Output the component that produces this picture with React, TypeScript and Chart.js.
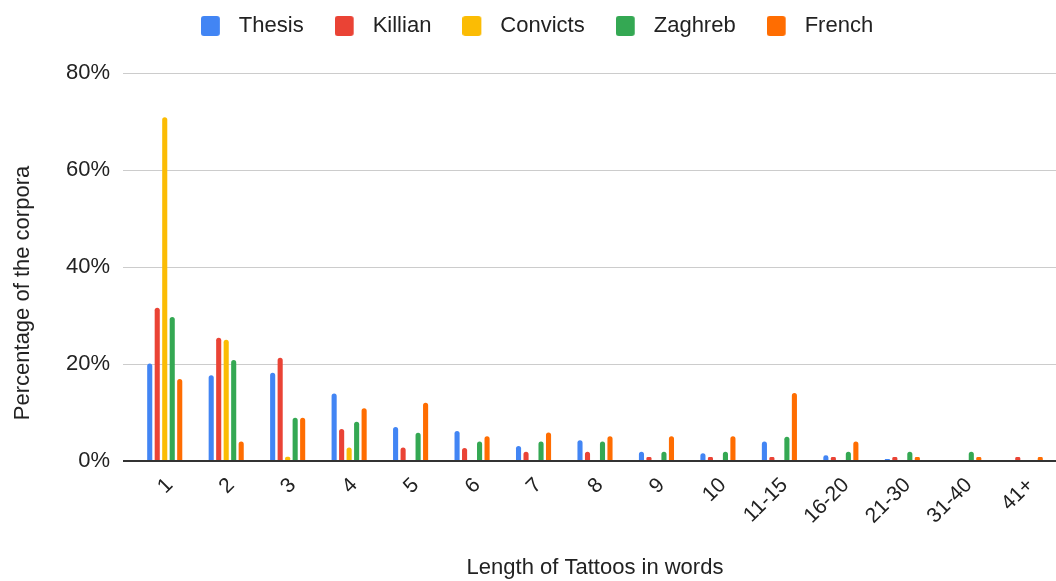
import React, { useEffect, useRef } from "react";
import { Chart, registerables } from "chart.js";

Chart.register(...registerables);

const categories = ["1", "2", "3", "4", "5", "6", "7", "8", "9", "10", "11-15", "16-20", "21-30", "31-40", "41+"];
const thesis = [20.1, 17.7, 18.2, 13.9, 7.0, 6.2, 3.1, 4.3, 1.9, 1.6, 4.0, 1.2, 0.4, null, null];
const killian = [31.6, 25.4, 21.3, 6.6, 2.8, 2.7, 1.9, 1.9, 0.8, 0.8, 0.8, 0.8, 0.8, null, 0.8];
const convicts = [70.9, 25.0, 0.9, 2.8, null, null, null, null, null, null, null, null, null, null, null];
const zaghreb = [29.7, 20.8, 8.9, 8.1, 5.8, 4.0, 4.0, 4.0, 1.9, 1.9, 5.0, 1.9, 1.9, 1.9, null];
const french = [16.9, 4.0, 8.9, 10.9, 12.0, 5.1, 5.9, 5.1, 5.1, 5.1, 14.0, 4.0, 0.8, 0.8, 0.8];
const seriesNames = ["Thesis", "Killian", "Convicts", "Zaghreb", "French"];
const seriesColors = ["#4285F4", "#EA4335", "#FBBC04", "#34A853", "#FF6D01"];
const yTicks = [0, 20, 40, 60, 80];
const xTitle = "Length of Tattoos in words";
const yTitle = "Percentage of the corpora";

const FONT = "'Liberation Sans', Arial, sans-serif";

function makeLegendBox(color: string): HTMLCanvasElement {
  const c = document.createElement("canvas");
  c.width = 27;
  c.height = 20;
  const g = c.getContext("2d")!;
  g.fillStyle = color;
  g.beginPath();
  if ((g as any).roundRect) (g as any).roundRect(0, 0, 19, 20, 3);
  else g.rect(0, 0, 19, 20);
  g.fill();
  return c;
}

export default function App() {
  const ref = useRef<HTMLCanvasElement | null>(null);
  useEffect(() => {
    if (!ref.current) return;
    const seriesData = [thesis, killian, convicts, zaghreb, french];
    const boxes = seriesColors.map(makeLegendBox);
    const legendTweak = {
      id: "legendTweak",
      beforeInit(chart: any) {
        const legend = chart.legend;
        if (!legend) return;
        const orig = legend.fit;
        legend.fit = function () {
          orig.call(this);
          this.height += 26;
          if (this.lineWidths) this.lineWidths = this.lineWidths.map((w: number) => w - 18);
        };
      },
    };
    const yTitlePlugin = {
      id: "yTitlePlugin",
      afterDraw(chart: any) {
        const ctx = chart.ctx;
        const area = chart.chartArea;
        ctx.save();
        ctx.translate(23, area.bottom - 168);
        ctx.rotate(-Math.PI / 2);
        ctx.fillStyle = "#222";
        ctx.font = "22px " + FONT;
        ctx.textAlign = "center";
        ctx.textBaseline = "middle";
        ctx.fillText(yTitle, 0, 0);
        ctx.restore();
      },
    };
    const chart = new Chart(ref.current, {
      type: "bar",
      data: {
        labels: categories,
        datasets: seriesNames.map((name, i) => ({
          label: name,
          data: seriesData[i],
          backgroundColor: seriesColors[i],
          borderWidth: 0,
          borderRadius: { topLeft: 3, topRight: 3, bottomLeft: 0, bottomRight: 0 },
          borderSkipped: false,
          categoryPercentage: 0.61,
          barPercentage: 0.68,
        })),
      },
      options: {
        animation: false,
        responsive: true,
        maintainAspectRatio: false,
        layout: { padding: { top: -16, left: 0, right: 0, bottom: 0 } },
        plugins: {
          tooltip: { enabled: false },
          legend: {
            position: "top",
            labels: {
              color: "#222",
              font: { family: FONT, size: 22 },
              usePointStyle: true,
              pointStyleWidth: 27,
              boxHeight: 20,
              padding: 31,
              generateLabels(chart: any) {
                const items = (Chart.defaults.plugins.legend.labels as any).generateLabels(chart);
                items.forEach((it: any, i: number) => {
                  it.pointStyle = boxes[i];
                });
                return items;
              },
            },
          },
        },
        scales: {
          x: {
            offset: true,
            grid: { display: false, drawTicks: false },
            border: { display: false },
            ticks: {
              color: "#222",
              font: { family: FONT, size: 21 },
              minRotation: 45,
              maxRotation: 45,
              padding: 12,
              labelOffset: 5,
              autoSkip: false,
            },
            title: {
              display: true,
              text: xTitle,
              color: "#222",
              font: { family: FONT, size: 22 },
              padding: { top: 0, bottom: 0 },
            },
            afterFit(scale: any) {
              scale.height = 120;
            },
          },
          y: {
            min: 0,
            max: 80,
            afterBuildTicks(scale: any) {
              scale.ticks = yTicks.map((v) => ({ value: v }));
            },
            grid: {
              color: (ctx: any) => (ctx.tick && ctx.tick.value === 0 ? "#333" : "#cccccc"),
              lineWidth: (ctx: any) => (ctx.tick && ctx.tick.value === 0 ? 2 : 1),
              drawTicks: true,
              tickLength: 11,
            },
            border: { display: false },
            ticks: {
              color: "#222",
              font: { family: FONT, size: 22 },
              padding: 13,
              callback: (v: any) => v + "%",
            },
            title: { display: false },
            afterFit(scale: any) {
              scale.width = 134;
            },
          },
        },
      },
      plugins: [legendTweak, yTitlePlugin],
    });
    return () => chart.destroy();
  }, []);
  return (
    <div style={{ position: "absolute", left: 0, top: 0, width: 1056, height: 581, background: "#fff" }}>
      <canvas ref={ref} />
    </div>
  );
}
